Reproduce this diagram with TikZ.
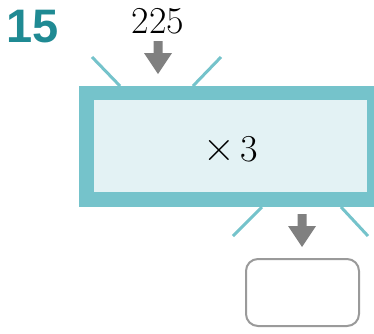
\documentclass[tikz,border=0pt]{standalone}
\usepackage{fontspec}
\newfontfamily\numfont{Liberation Sans}
\definecolor{tealnum}{HTML}{1F8A93}
\definecolor{boxedge}{HTML}{75C3CB}
\definecolor{boxfill}{HTML}{E3F2F4}
\definecolor{arrowgray}{HTML}{808080}
\definecolor{resgray}{HTML}{9A9A9A}
\tikzset{
  ray/.style={draw=boxedge, line width=3pt},
  fatarrow/.style={fill=arrowgray, draw=none},
  bigtext/.style={font=\fontsize{38}{40}\selectfont, inner sep=0pt},
}
\begin{document}
\begin{tikzpicture}[x=1pt,y=-1pt]
\useasboundingbox (0,0) rectangle (374,333);
% label
\node[anchor=base west, inner sep=0pt, text=tealnum, font=\numfont\bfseries\fontsize{47}{50}\selectfont] (num) at (6.5,42) {15};
% input number
\node[bigtext, anchor=base] (in) at (158,33) {225};
% rays
\draw[ray] (92,57) -- (120,86);
\draw[ray] (221,57) -- (193,86);
\draw[ray] (262,207) -- (233,236);
\draw[ray] (341,207) -- (368,236);
% machine box
\fill[boxedge] (79,86) rectangle (380,207);
\fill[boxfill] (94,100) rectangle (367,192);
\node[bigtext, anchor=base] (op) at (231,161) {{\fontsize{44}{44}\selectfont ×}\hspace{0.15em}3};
% arrows
\fill[fatarrow] (153.5,41) -- (162.5,41) -- (162.5,53) -- (172,53) -- (158,74) -- (144,53) -- (153.5,53) -- cycle;
\fill[fatarrow] (297.5,214) -- (306.5,214) -- (306.5,226) -- (316,226) -- (302,247) -- (288,226) -- (297.5,226) -- cycle;
% result box
\node[draw=resgray, line width=2pt, rounded corners=12pt, minimum width=113pt, minimum height=67pt, inner sep=0pt] (res) at (302.5,292.5) {};
\end{tikzpicture}
\end{document}
